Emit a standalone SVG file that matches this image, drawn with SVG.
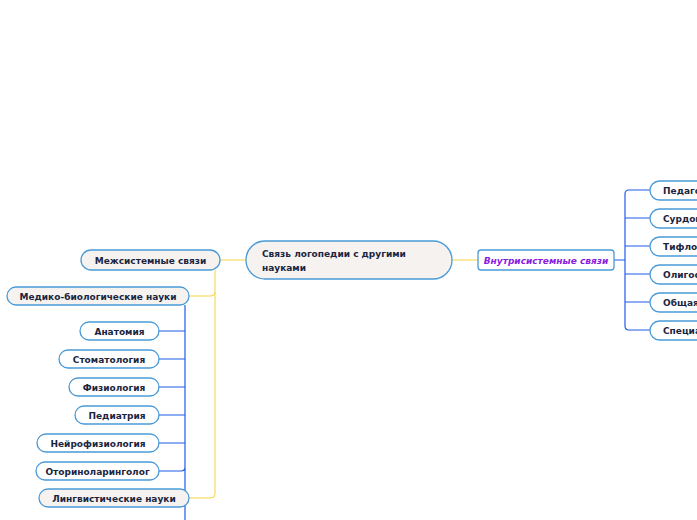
<svg xmlns="http://www.w3.org/2000/svg" width="697" height="520" viewBox="0 0 697 520">
<style>
.n{fill:#f5f2f0;stroke:#4a9ad8;stroke-width:1.3}
.c{fill:#fff;stroke:#4a9ad8;stroke-width:1.3}
.t{font-family:"DejaVu Sans",sans-serif;font-weight:bold;font-size:9px;fill:#1a2540}
.y{fill:none;stroke:#f5d442;stroke-width:1}
.b{fill:none;stroke:#1f5ce8;stroke-width:1.2}
</style>
<rect width="697" height="520" fill="#fff"/>
<g id="connectors">
<path class="y" d="M246 260H220M215 270V494q0 4-4 4H189M215 292q0 4-4 4H189M452 260H478"/>
<path class="b" d="M185 305V520M159 331H185M159 359H185M159 387H185M159 415H185M159 443H185M159 471H181q4 0 4-4"/>
<path class="b" d="M614 260H625M650 190H629q-4 0-4 4V326q0 4 4 4H650M625 218H650M625 246H650M625 274H650M625 302H650"/>
</g>
<g id="center"><rect class="n" x="246" y="241" width="206" height="38" rx="19"/><text class="t" x="262" y="257">Связь логопедии с другими</text><text class="t" x="262" y="271">науками</text></g>
<g id="mezh"><rect class="n" x="81" y="250" width="139" height="20" rx="10"/><text class="t" x="150.5" y="264" text-anchor="middle">Межсистемные связи</text></g>
<g id="med"><rect class="n" x="7" y="287" width="182" height="18" rx="9"/><text class="t" x="98" y="299.5" text-anchor="middle">Медико-биологические науки</text></g>
<g id="n1"><rect class="c" x="80" y="322" width="79" height="18" rx="9"/><text class="t" x="119.5" y="334.5" text-anchor="middle">Анатомия</text></g>
<g id="n2"><rect class="c" x="59" y="350" width="100" height="18" rx="9"/><text class="t" x="109" y="362.5" text-anchor="middle">Стоматология</text></g>
<g id="n3"><rect class="c" x="69" y="378" width="90" height="18" rx="9"/><text class="t" x="114" y="390.5" text-anchor="middle">Физиология</text></g>
<g id="n4"><rect class="c" x="75" y="406" width="84" height="18" rx="9"/><text class="t" x="117" y="418.5" text-anchor="middle">Педиатрия</text></g>
<g id="n5"><rect class="c" x="37" y="434" width="122" height="18" rx="9"/><text class="t" x="98" y="446.5" text-anchor="middle">Нейрофизиология</text></g>
<g id="n6"><rect class="c" x="36" y="462" width="123" height="18" rx="9"/><text class="t" x="97.5" y="474.5" text-anchor="middle">Оториноларинголог</text></g>
<g id="ling"><rect class="n" x="39" y="489" width="150" height="18" rx="9"/><text class="t" x="114" y="501.5" text-anchor="middle">Лингвистические науки</text></g>
<g id="vnutr"><rect class="c" x="478" y="250" width="136" height="20" rx="3"/><text class="t" x="546" y="263.5" text-anchor="middle" style="fill:#8a1de0;font-style:italic">Внутрисистемные связи</text></g>
<g id="r1"><rect class="c" x="650" y="181" width="130" height="19" rx="9.5"/><text class="t" x="663" y="193.5">Педагогика</text></g>
<g id="r2"><rect class="c" x="650" y="209" width="130" height="19" rx="9.5"/><text class="t" x="663" y="221.5">Сурдопедагогика</text></g>
<g id="r3"><rect class="c" x="650" y="237" width="130" height="19" rx="9.5"/><text class="t" x="663" y="249.5">Тифлопедагогика</text></g>
<g id="r4"><rect class="c" x="650" y="265" width="130" height="19" rx="9.5"/><text class="t" x="663" y="277.5">Олигофренопедагогика</text></g>
<g id="r5"><rect class="c" x="650" y="293" width="130" height="19" rx="9.5"/><text class="t" x="663" y="305.5">Общая психология</text></g>
<g id="r6"><rect class="c" x="650" y="321" width="130" height="19" rx="9.5"/><text class="t" x="663" y="333.5">Специальная психология</text></g>
</svg>
